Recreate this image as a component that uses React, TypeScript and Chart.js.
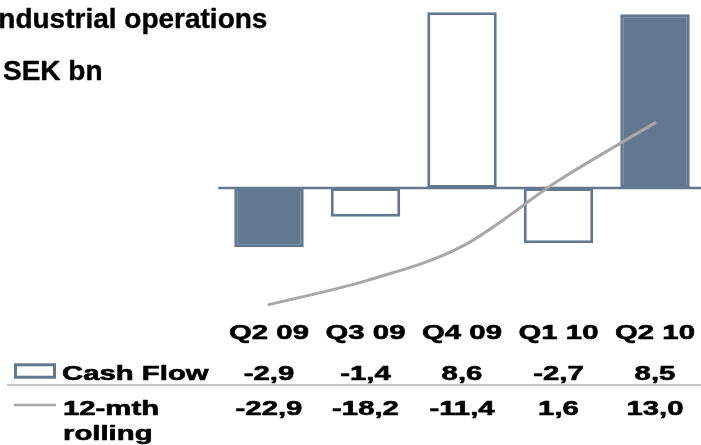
import React, { useEffect, useRef } from "react";
import { Chart, registerables } from "chart.js";

Chart.register(...registerables);

const categories = ["Q2 09", "Q3 09", "Q4 09", "Q1 10", "Q2 10"];
const cashFlow = [-2.9, -1.4, 8.6, -2.7, 8.5];
const rolling12 = [-22.9, -18.2, -11.4, 1.6, 13.0];
const filledBars = [true, false, false, false, true];
const titleText = "Industrial operations";
const unitText = "SEK bn";
const seriesNames = ["Cash Flow", "12-mth", "rolling"];

const SLATE = "#627891";
const GREY = "#a7a7a7";
const FONT = '"Liberation Sans", Arial, Helvetica, sans-serif';

const fmt = (v: number) => v.toFixed(1).replace(".", ",");

function drawText(
  ctx: CanvasRenderingContext2D,
  text: string,
  x: number,
  y: number,
  align: CanvasTextAlign,
  sx: number,
  stroke = 0
) {
  ctx.save();
  ctx.translate(x, y);
  ctx.scale(sx, 1);
  ctx.textAlign = align;
  ctx.textBaseline = "alphabetic";
  ctx.fillText(text, 0, 0);
  if (stroke > 0) {
    ctx.lineWidth = stroke;
    ctx.strokeStyle = "#000";
    ctx.lineJoin = "round";
    ctx.strokeText(text, 0, 0);
  }
  ctx.restore();
}

const baselinePlugin = {
  id: "baselinePlugin",
  afterDatasetDraw(chart: any, args: any) {
    if (args.index !== 1) return;
    const { ctx, chartArea, scales } = chart;
    const y = scales.y.getPixelForValue(0);
    ctx.save();
    ctx.strokeStyle = SLATE;
    ctx.lineWidth = 2.7;
    ctx.beginPath();
    ctx.moveTo(chartArea.left - 2.5, y);
    ctx.lineTo(chartArea.right + 10, y);
    ctx.stroke();
    ctx.restore();
  },
};

const tablePlugin = {
  id: "tablePlugin",
  afterDraw(chart: any) {
    const { ctx, scales } = chart;
    const sx = 1.43;
    const st = 0.6;
    ctx.save();
    ctx.fillStyle = "#000";

    // Title
    ctx.font = `bold 28px ${FONT}`;
    drawText(ctx, titleText, -9.5, 27.5, "left", 1, 0.4);
    drawText(ctx, unitText, 3, 80, "left", 1, 0.4);

    // Table
    ctx.font = `bold 20.5px ${FONT}`;
    categories.forEach((c, i) => {
      const x = scales.x.getPixelForValue(i);
      drawText(ctx, c, x, 338.5, "center", sx, st);
      drawText(ctx, fmt(cashFlow[i]), x, 380, "center", sx, st);
      drawText(ctx, fmt(rolling12[i]), x, 415, "center", sx, st);
    });
    drawText(ctx, seriesNames[0], 62, 379.5, "left", sx, st);
    drawText(ctx, seriesNames[1], 63, 415, "left", sx, st);
    drawText(ctx, seriesNames[2], 63, 439.5, "left", sx, st);

    // Legend icons
    ctx.strokeStyle = SLATE;
    ctx.lineWidth = 3;
    ctx.fillStyle = "#fff";
    ctx.fillRect(15.5, 364.8, 39, 12.4);
    ctx.strokeRect(15.5, 364.8, 39, 12.4);

    ctx.strokeStyle = GREY;
    ctx.lineWidth = 2.5;
    ctx.lineCap = "round";
    ctx.beginPath();
    ctx.moveTo(15, 405);
    ctx.lineTo(55, 405);
    ctx.stroke();

    // Divider
    ctx.strokeStyle = "#b5b5b5";
    ctx.lineWidth = 1.5;
    ctx.lineCap = "butt";
    ctx.beginPath();
    ctx.moveTo(7, 385);
    ctx.lineTo(720, 385);
    ctx.stroke();

    ctx.restore();
  },
};

export default function App() {
  const ref = useRef<HTMLCanvasElement | null>(null);

  useEffect(() => {
    if (!ref.current) return;
    const chart = new Chart(ref.current, {
      type: "bar",
      data: {
        labels: categories,
        datasets: [
          {
            type: "line",
            label: "12-mth rolling",
            data: rolling12,
            yAxisID: "y1",
            borderColor: GREY,
            borderWidth: 3,
            borderCapStyle: "round",
            pointRadius: 0,
            cubicInterpolationMode: "monotone",
            fill: false,
            order: 0,
          } as any,
          {
            type: "bar",
            label: "Cash Flow",
            data: cashFlow,
            yAxisID: "y",
            backgroundColor: filledBars.map((f) => (f ? SLATE : "#ffffff")),
            borderColor: SLATE,
            borderWidth: 3,
            borderSkipped: false,
            categoryPercentage: 0.8,
            barPercentage: 0.9,
            order: 1,
          } as any,
        ],
      },
      options: {
        animation: false,
        responsive: false,
        devicePixelRatio: 1,
        layout: {
          padding: { left: 220.75, right: 16.75, top: 3.95, bottom: 134.3 },
        },
        plugins: {
          legend: { display: false },
          title: { display: false },
          tooltip: { enabled: false },
        },
        scales: {
          x: { type: "category", display: false, offset: true },
          y: { display: false, min: -6, max: 9 },
          y1: { display: false, min: -24.1, max: 36.5 },
        },
      },
      plugins: [baselinePlugin, tablePlugin],
    });
    return () => chart.destroy();
  }, []);

  return (
    <div
      style={{
        position: "absolute",
        left: 0,
        top: 0,
        width: 701,
        height: 445,
        overflow: "hidden",
        background: "#fff",
      }}
    >
      <canvas
        ref={ref}
        width={720}
        height={445}
        style={{ display: "block", width: 720, height: 445 }}
      />
    </div>
  );
}
